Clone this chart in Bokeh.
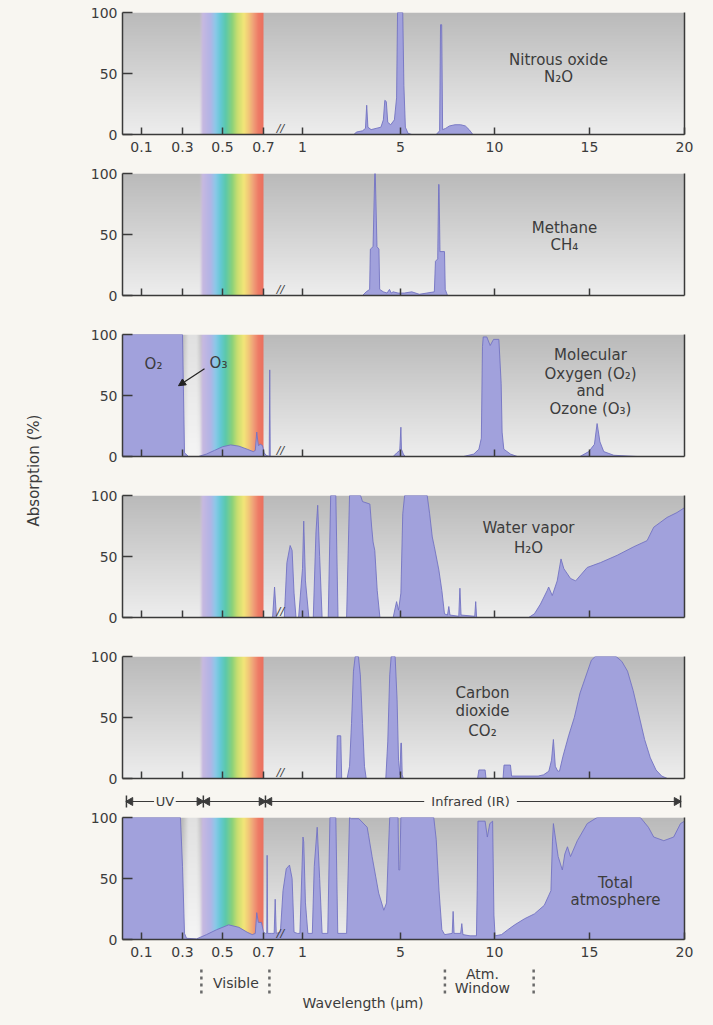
import numpy as np
from bokeh.plotting import figure
from bokeh.layouts import row, column
from bokeh.models import Range1d, FixedTicker, LinearAxis, Arrow, NormalHead
from bokeh.core.properties import value
from bokeh.embed import file_html
from bokeh.resources import INLINE

# ---------------- axis scale (broken wavelength axis) ----------------
SCALE_WL = [0.0, 0.1, 0.3, 0.5, 0.7, 1.0, 5.0, 10.0, 15.0, 20.0]
SCALE_POS = [120.5, 141, 182, 222, 263, 302, 400, 494, 589, 684]
TICK_WL = [0.1, 0.3, 0.5, 0.7, 1, 5, 10, 15, 20]
TICK_LABELS = ["0.1", "0.3", "0.5", "0.7", "1", "5", "10", "15", "20"]
Y_TICKS = [0, 50, 100]

# ---------------- data: wavelength (um) / absorption (%) ----------------
N2O_WL = [3.10, 3.20, 3.45, 3.57, 3.62, 3.67, 3.80, 4.00, 4.20, 4.30, 4.36, 4.42, 4.48, 4.60, 4.75, 4.84, 4.88,
          5.12, 5.18, 5.26, 5.40, 5.60, 6.90, 7.08, 7.13, 7.19, 7.24, 7.40, 7.60, 7.90, 8.20, 8.45, 8.65, 8.85]
N2O_ABS = [0, 2, 3, 5, 24, 6, 4, 5, 6, 12, 28, 27, 10, 8, 12, 30, 100,
           100, 40, 6, 1, 0, 0, 3, 90, 90, 4, 5, 7, 8, 8, 7, 4, 0]

CH4_WL = [3.45, 3.60, 3.74, 3.77, 3.88, 3.95, 3.97, 4.04, 4.12, 4.15, 4.30, 4.45, 4.55, 4.62, 4.70, 4.90, 5.20,
          5.60, 6.00, 6.40, 6.80, 6.86, 6.98, 7.03, 7.05, 7.10, 7.34, 7.38, 7.50]
CH4_ABS = [0, 3, 5, 38, 40, 100, 100, 40, 38, 5, 3, 2, 5, 2, 3, 2, 2,
           3, 1, 2, 3, 28, 30, 91, 91, 36, 36, 5, 0]

O2O3_WL = [0.0, 0.30, 0.31, 0.33, 0.38, 0.42, 0.46, 0.50, 0.54, 0.58, 0.62, 0.65, 0.66, 0.667, 0.675, 0.685,
           0.695, 0.705, 0.72, 0.744, 0.748, 0.752, 0.78, 4.70, 4.85, 4.97, 5.02, 5.05, 5.15, 5.25, 8.35, 8.90,
           9.17, 9.30, 9.36, 9.40, 9.59, 9.77, 9.95, 10.23, 10.35, 10.40, 10.49, 10.84, 11.20, 14.50, 14.96,
           15.26, 15.40, 15.55, 15.75, 16.28, 17.50]
O2O3_ABS = [100, 100, 3, 0, 0, 2, 5, 8, 9.5, 8.5, 6, 4, 5, 20, 9, 10,
            9, 3, 1, 0, 71, 0, 0, 0, 3, 5, 24, 6, 2, 0, 0, 2,
            6, 15, 90, 98, 98, 91, 96, 96, 60, 20, 6, 2, 0, 0, 4,
            10, 27, 12, 4, 1, 0]

H2O_WL = [0.77, 0.785, 0.80, 0.86, 0.88, 0.905, 0.92, 0.935, 0.95, 0.97, 1.00, 1.05, 1.12, 1.26, 1.44, 1.55,
          1.62, 1.70, 1.80, 2.05, 2.15, 2.36, 2.45, 2.80, 2.92, 3.37, 3.45, 3.75, 3.82, 3.88, 3.95, 4.05, 4.16,
          4.70, 4.84, 4.92, 5.02, 5.12, 5.22, 6.42, 6.55, 6.69, 6.80, 7.04, 7.20, 7.34, 7.50, 7.57, 7.63, 8.10,
          8.16, 8.22, 8.95, 9.00, 9.05, 11.80, 12.10, 12.42, 12.77, 12.85, 13.04, 13.30, 13.50, 13.65, 14.00,
          14.27, 14.88, 15.58, 16.46, 17.33, 18.03, 18.38, 19.08, 19.60, 20.00]
H2O_ABS = [0, 25, 0, 0, 45, 59, 55, 20, 0, 0, 40, 79, 30, 0, 0, 70,
           92, 50, 0, 0, 100, 100, 0, 0, 100, 100, 95, 93, 75, 62, 55, 22, 0,
           0, 13, 6, 20, 85, 100, 100, 85, 66, 58, 39, 22, 3, 2, 9, 2, 1,
           24, 2, 1, 13, 0, 0, 3, 11, 22, 25, 18, 30, 48, 40, 32,
           30, 41, 45, 51, 58, 63, 74, 82, 86, 90]

CO2_WL = [2.38, 2.42, 2.56, 2.60, 2.82, 2.92, 3.00, 3.08, 3.15, 3.28, 3.36, 3.45, 3.53, 3.60, 4.40, 4.48, 4.56,
          4.62, 4.78, 4.86, 4.92, 4.98, 5.02, 5.05, 5.09, 5.15, 9.10, 9.17, 9.50, 9.55, 10.45, 10.50, 10.84,
          10.90, 11.50, 12.30, 12.58, 12.86, 13.00, 13.10, 13.20, 13.33, 13.42, 13.60, 13.90, 14.20, 14.50,
          14.90, 15.10, 15.30, 16.40, 16.70, 17.00, 17.30, 17.60, 17.90, 18.20, 18.50, 18.80, 19.10]
CO2_ABS = [0, 35, 35, 0, 0, 10, 45, 88, 100, 100, 85, 45, 10, 0, 0, 30, 85,
           100, 100, 65, 15, 3, 29, 29, 3, 0, 0, 7, 7, 0, 0, 11, 11,
           2, 2, 2, 3, 6, 15, 32, 10, 6, 6, 18, 35, 50, 70,
           88, 97, 100, 100, 96, 88, 72, 52, 32, 17, 7, 2, 0]

TOTAL_WL = [0.0, 0.29, 0.30, 0.31, 0.32, 0.37, 0.42, 0.47, 0.53, 0.58, 0.62, 0.645, 0.66, 0.667, 0.675, 0.69,
            0.70, 0.715, 0.725, 0.728, 0.732, 0.76, 0.782, 0.79, 0.798, 0.83, 0.85, 0.875, 0.90, 0.92, 0.935,
            0.96, 0.98, 1.02, 1.05, 1.12, 1.22, 1.40, 1.48, 1.60, 1.70, 1.80, 2.03, 2.12, 2.36, 2.44, 2.80,
            2.92, 3.00, 3.30, 3.64, 3.70, 3.84, 4.11, 4.32, 4.43, 4.50, 4.56, 4.90, 4.93, 4.97, 5.02, 6.77,
            6.90, 7.05, 7.20, 7.35, 7.75, 7.80, 7.85, 8.20, 8.26, 8.32, 8.70, 9.04, 9.08, 9.12, 9.50, 9.62,
            9.75, 9.90, 9.97, 10.03, 10.37, 10.70, 11.06, 11.58, 12.10, 12.62, 12.97, 13.05, 13.10, 13.20,
            13.35, 13.57, 13.70, 13.84, 14.00, 14.36, 14.88, 15.40, 17.68, 18.10, 18.38, 18.91, 19.43, 19.79,
            20.00]
TOTAL_ABS = [100, 100, 60, 5, 1, 0.5, 4, 8, 12, 10, 6, 4, 5, 22, 14, 14,
             6, 5, 5, 69, 5, 5, 5, 33, 5, 6, 40, 58, 61, 50, 6,
             5, 5, 84, 80, 30, 5, 5, 60, 92, 50, 5, 5, 100, 100, 5, 5,
             100, 99, 99, 92, 85, 68, 38, 24, 30, 70, 100, 100, 57, 57, 100, 100,
             82, 40, 8, 4, 5, 23, 5, 5, 13, 4, 3, 3, 40, 97, 97, 84,
             95, 97, 20, 3, 4, 8, 12, 17, 21, 28, 40, 80, 95, 84,
             68, 57, 70, 76, 68, 81, 95, 100, 100, 92, 84, 81, 84, 95,
             97]

PANEL_TEXTS = [
    [(558, 61, "Nitrous oxide"), (558, 47, "N\u2082O")],
    [(564, 55, "Methane"), (564, 41, "CH\u2084")],
    [(590, 83, "Molecular"), (590, 68, "Oxygen (O\u2082)"), (590, 54, "and"), (590, 39, "Ozone (O\u2083)"),
     (153, 76, "O\u2082"), (218, 77, "O\u2083")],
    [(528, 73, "Water vapor"), (528, 57, "H\u2082O")],
    [(482, 70, "Carbon"), (482, 55, "dioxide"), (482, 39, "CO\u2082")],
    [(615, 46, "Total"), (615, 32, "atmosphere")],
]

# ---------------- style ----------------
BG = "#f8f6f1"
FILL = "#a1a1dc"
EDGE = "#7373c2"
AXIS = "#3a3a3a"
TEXT = "#3c3c3c"
FONT = "DejaVu Sans"
X0, X1 = 122, 684
RAINBOW_WL = [0.385, 0.40, 0.44, 0.465, 0.49, 0.515, 0.548, 0.572, 0.604, 0.627, 0.651, 0.676, 0.70]
RAINBOW_RGB = [(205, 195, 222), (200, 185, 225), (178, 180, 230), (140, 200, 232), (100, 200, 212),
               (92, 200, 172), (140, 210, 122), (200, 222, 112), (242, 230, 120), (242, 200, 120),
               (240, 160, 120), (238, 122, 102), (235, 112, 95)]


def xmap(wl):
    return np.interp(np.asarray(wl, dtype=float), SCALE_WL, SCALE_POS)


def background(glow=False):
    rows, cols = 90, X1 - X0
    u = X0 + np.arange(cols) + 0.5
    wl = np.interp(u, SCALE_POS, SCALE_WL)
    t = (np.arange(rows) + 0.5) / rows
    gray = np.repeat((238.0 - 52.0 * t)[:, None], cols, axis=1)
    if glow:
        g = np.clip((wl - 0.30) / 0.03, 0, 1) * np.clip((0.40 - wl) / 0.03, 0, 1)
        gray = gray * (1 - 0.6 * g[None, :]) + 250 * 0.6 * g[None, :]
    img = np.zeros((rows, cols, 4), dtype=np.uint8)
    rc = np.array(RAINBOW_RGB, dtype=float)
    a = np.clip((wl - 0.385) / 0.017, 0, 1) * (wl <= 0.70)
    for k in range(3):
        col = np.interp(wl, RAINBOW_WL, rc[:, k])
        img[..., k] = np.clip(gray * (1 - a[None, :]) + col[None, :] * a[None, :], 0, 255).astype(np.uint8)
    img[..., 3] = 255
    return img.view(np.uint32).reshape(rows, cols)


TICK_POS = [int(round(v)) for v in xmap(TICK_WL)]


def texts(p, xs, ys, ts, size="15px", align="center", style="normal", color=TEXT, baseline="middle"):
    p.text(x=xs, y=ys, text=ts, text_font=value(FONT), text_font_size=value(size), text_color=color,
           text_align=align, text_baseline=baseline, text_font_style=style)


def style_axis(ax, size):
    ax.axis_line_color = AXIS
    ax.axis_line_width = 1.5
    ax.major_tick_line_color = AXIS
    ax.major_tick_line_width = 1.5
    ax.major_label_text_font = FONT
    ax.major_label_text_color = TEXT
    ax.major_label_text_font_size = size


def make_panel(wl, ab, height, top, bottom, show_labels, glow, panel_texts):
    p = figure(width=650, height=height, x_range=Range1d(X0, X1), y_range=Range1d(0, 100),
               output_backend="svg", toolbar_location=None, title=None,
               min_border_left=74, min_border_right=14, min_border_top=top, min_border_bottom=bottom,
               border_fill_color=BG, background_fill_color=BG, outline_line_color=None)
    p.grid.visible = False
    p.image_rgba(image=[background(glow)], x=X0, y=0, dw=X1 - X0, dh=100)
    xs = xmap(wl)
    p.varea(x=xs, y1=np.zeros(len(xs)), y2=ab, fill_color=FILL)
    p.line(xs, ab, line_color=EDGE, line_width=0.9)

    xa = p.xaxis[0]
    style_axis(xa, "14px")
    if show_labels:
        xa.ticker = FixedTicker(ticks=TICK_POS, minor_ticks=[])
        xa.major_label_overrides = dict(zip(TICK_POS, TICK_LABELS))
        xa.major_tick_in = 7
        xa.major_tick_out = 0
        xa.major_label_standoff = 7
    else:
        xa.ticker = FixedTicker(ticks=[], minor_ticks=[])
        xa.major_tick_in = 0
        xa.major_tick_out = 0
        xa.major_label_standoff = 0
        p.segment(x0=TICK_POS[:-1], y0=0, x1=TICK_POS[:-1], y1=5.7, line_color=AXIS, line_width=1.5)

    ya = p.yaxis[0]
    style_axis(ya, "14px")
    ya.ticker = FixedTicker(ticks=Y_TICKS, minor_ticks=[])
    ya.major_tick_in = 10
    ya.major_tick_out = 0
    ya.major_label_standoff = 5

    p.add_layout(LinearAxis(ticker=FixedTicker(ticks=[], minor_ticks=[]), major_label_standoff=0,
                            major_tick_in=0, major_tick_out=0, axis_line_color=AXIS, axis_line_width=1.5), "right")

    # axis break mark
    texts(p, [280], [0], ["//"], size="11px", style="italic", color=AXIS, baseline="bottom")
    texts(p, [t[0] for t in panel_texts], [t[1] for t in panel_texts], [t[2] for t in panel_texts])
    return p


def strip(height):
    return figure(width=650, height=height, x_range=Range1d(118, 688), y_range=Range1d(0, height),
                  output_backend="svg", toolbar_location=None, title=None, x_axis_type=None, y_axis_type=None,
                  min_border_left=70, min_border_right=10, min_border_top=0, min_border_bottom=0,
                  border_fill_color=BG, background_fill_color=BG, outline_line_color=None)


SPECS = [(N2O_WL, N2O_ABS, 165, 12, 31, True, False),
         (CH4_WL, CH4_ABS, 161, 8, 31, False, False),
         (O2O3_WL, O2O3_ABS, 161, 8, 31, False, True),
         (H2O_WL, H2O_ABS, 161, 8, 31, False, False),
         (CO2_WL, CO2_ABS, 138, 8, 8, False, False),
         (TOTAL_WL, TOTAL_ABS, 156, 8, 26, True, True)]

figs = []
for (wl, ab, h, top, bot, show, glow), pt_ in zip(SPECS, PANEL_TEXTS):
    figs.append(make_panel(wl, ab, h, top, bot, show, glow, pt_))

# O3 pointer arrow in the oxygen/ozone panel
figs[2].add_layout(Arrow(x_start=204, y_start=72, x_end=178, y_end=58, line_color="#222222", line_width=1.2,
                         end=NormalHead(size=7, fill_color="#222222", line_color="#222222")))

# ---- spectral region markers (UV / visible / IR) ----
sa = strip(23)
YR = 8
sa.segment(x0=[X0, 172, 200, 263, 518], x1=[150, 200, 263, 424, X1], y0=YR, y1=YR, line_color=AXIS, line_width=1)
sa.segment(x0=[X0, 200, 263, X1], x1=[X0, 200, 263, X1], y0=YR - 6, y1=YR + 6, line_color=AXIS, line_width=1.5)
sa.scatter(x=[X0 + 4, 200 + 4, 263 + 4, 200 - 4, 263 - 4, X1 - 4], y=[YR] * 6, marker="triangle", size=8,
           angle=[np.pi / 2] * 3 + [-np.pi / 2] * 3, fill_color=AXIS, line_color=AXIS)
texts(sa, [161, 471], [YR, YR], ["UV", "Infrared (IR)"], size="13px")

# ---- bottom annotations ----
sb = strip(52)
texts(sb, [233, 483, 483, 362], [35, 44, 30, 15], ["Visible", "Atm.", "Window", "Wavelength (\u00b5m)"], size="14px")
sb.segment(x0=[198, 267, 445, 535], x1=[198, 267, 445, 535], y0=[24, 24, 24, 24], y1=[50, 50, 52, 52],
           line_color="#6a6a6a", line_width=2.5, line_dash="3 4")

# ---- y-axis title column ----
p0 = figure(width=48, height=1017, x_range=Range1d(0, 48), y_range=Range1d(1017, 0), output_backend="svg",
            toolbar_location=None, title=None, x_axis_type=None, y_axis_type=None, min_border=0,
            outline_line_color=None, border_fill_color=BG, background_fill_color=BG)
p0.text(x=[33], y=[470], text=["Absorption (%)"], angle=np.pi / 2, text_font=value(FONT),
        text_font_size=value("15px"), text_color=TEXT, text_align="center", text_baseline="middle")

layout = row(p0, column(*figs[:5], sa, figs[5], sb))
html = file_html(layout, INLINE, title="Atmospheric absorption")
html = html.replace("<body>", '<body style="background-color:#f8f6f1;">')
open("out.html", "w").write(html)
